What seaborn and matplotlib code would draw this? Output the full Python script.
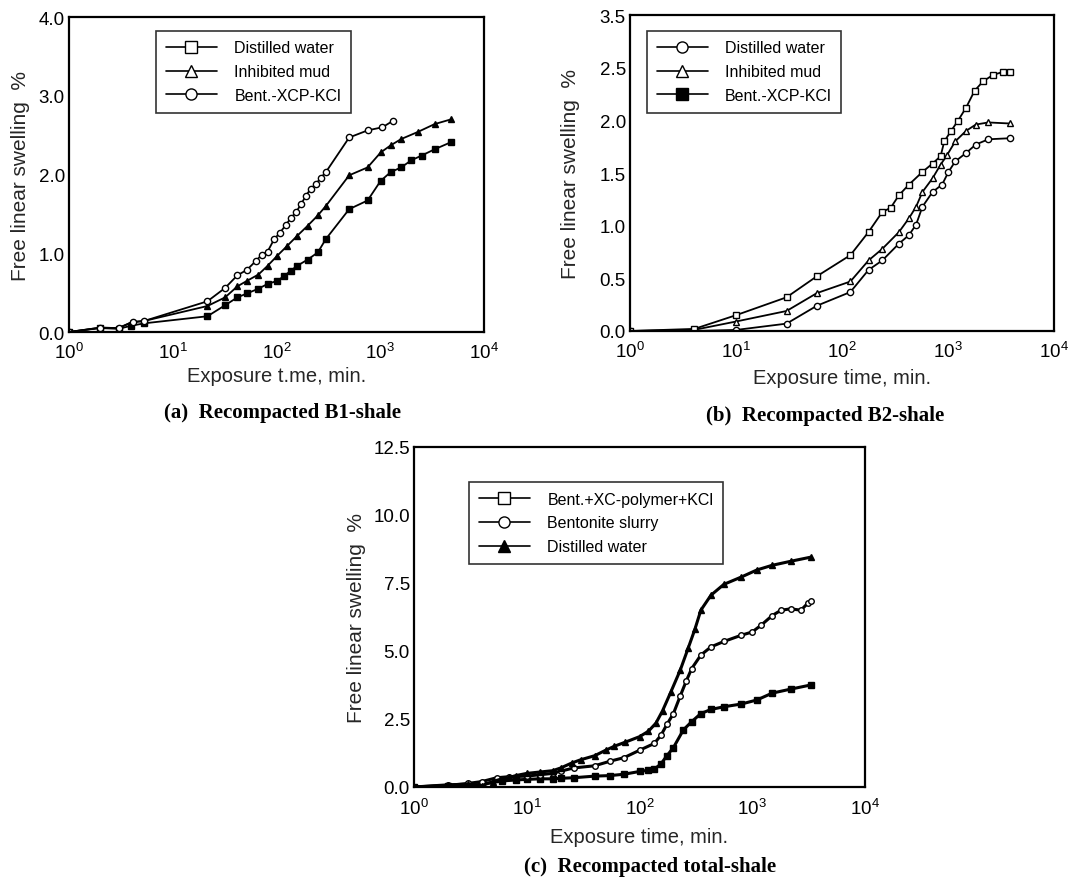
import numpy as np
import pandas as pd
import matplotlib
matplotlib.use("Agg")
import matplotlib.pyplot as plt
from matplotlib.lines import Line2D
from matplotlib.ticker import LogLocator, MultipleLocator, FixedLocator, FixedFormatter, NullFormatter
import seaborn as sns

# ---------------- data ----------------
# Panel (a) Recompacted B1-shale
a_circ_x = [1, 2, 3, 4.1, 5.3, 21.6, 32, 42, 52, 63, 72, 82, 95, 108, 123, 138, 154, 172, 192, 214, 240, 268, 299, 502, 755, 1050, 1320]
a_circ_y = [0, 0.055, 0.05, 0.13, 0.14, 0.39, 0.56, 0.72, 0.79, 0.90, 0.98, 1.02, 1.18, 1.26, 1.36, 1.45, 1.52, 1.62, 1.73, 1.82, 1.88, 1.96, 2.03, 2.47, 2.56, 2.60, 2.68]
a_tri_x = [1, 2, 3, 4, 5.3, 21.6, 32, 42, 52, 67, 82, 102, 126, 158, 200, 250, 299, 502, 755, 1010, 1260, 1590, 2300, 3340, 4800]
a_tri_y = [0, 0.055, 0.05, 0.12, 0.14, 0.33, 0.44, 0.58, 0.65, 0.73, 0.84, 0.97, 1.09, 1.22, 1.35, 1.48, 1.60, 1.99, 2.09, 2.28, 2.37, 2.45, 2.54, 2.64, 2.70]
a_sq_x = [1, 2, 3, 4, 5.3, 21.6, 32, 42, 52, 67, 82, 102, 118, 138, 158, 200, 250, 299, 502, 755, 1010, 1260, 1590, 1990, 2500, 3340, 4800]
a_sq_y = [0, 0.05, 0.04, 0.08, 0.11, 0.2, 0.34, 0.44, 0.49, 0.55, 0.61, 0.65, 0.71, 0.78, 0.84, 0.92, 1.01, 1.18, 1.56, 1.67, 1.92, 2.03, 2.09, 2.18, 2.24, 2.32, 2.41]
a_labels = ["Distilled water", "Inhibited mud", "Bent.-XCP-KCl"]

# Panel (b) Recompacted B2-shale
b_sq_x = [1, 4.05, 10, 30, 58, 120, 178, 240, 288, 345, 428, 574, 715, 852, 922, 1070, 1230, 1480, 1780, 2140, 2650, 3300, 3820]
b_sq_y = [0, 0.02, 0.15, 0.32, 0.52, 0.72, 0.94, 1.13, 1.17, 1.29, 1.39, 1.51, 1.59, 1.66, 1.80, 1.90, 1.99, 2.12, 2.28, 2.37, 2.43, 2.46, 2.46]
b_tri_x = [1, 4, 10, 30, 58, 120, 178, 240, 345, 428, 500, 574, 715, 852, 980, 1170, 1480, 1830, 2400, 3820]
b_tri_y = [0, 0.01, 0.09, 0.19, 0.36, 0.47, 0.67, 0.78, 0.94, 1.07, 1.18, 1.32, 1.45, 1.58, 1.67, 1.80, 1.90, 1.96, 1.98, 1.97]
b_circ_x = [1, 4, 10, 30, 58, 120, 178, 240, 345, 428, 500, 574, 715, 880, 1010, 1170, 1480, 1830, 2400, 3820]
b_circ_y = [0, 0.0, 0.01, 0.07, 0.24, 0.37, 0.58, 0.67, 0.83, 0.91, 1.01, 1.18, 1.32, 1.39, 1.51, 1.61, 1.69, 1.77, 1.82, 1.83]
b_labels = ["Distilled water", "Inhibited mud", "Bent.-XCP-KCl"]
b_yticks = [0.0, 0.5, 1.0, 1.5, 2.0, 2.5, 3.0]
b_yticklabels = ["0.0", "0.5", "1.0", "1.5", "2.0", "2.5", "3.5"]

# Panel (c) Recompacted total-shale
c_tri_x = [1, 2, 3, 4, 5, 6, 7, 8, 10, 13, 17, 20, 25, 30, 40, 50, 60, 75, 100, 120, 140, 160, 190, 230, 270, 310, 350, 430, 560, 800, 1100, 1500, 2200, 3300]
c_tri_y = [0, 0.08, 0.1, 0.05, 0.2, 0.3, 0.35, 0.42, 0.5, 0.55, 0.6, 0.7, 0.88, 1.0, 1.15, 1.35, 1.5, 1.65, 1.85, 2.05, 2.35, 2.8, 3.5, 4.3, 5.1, 5.8, 6.5, 7.05, 7.45, 7.72, 7.98, 8.15, 8.3, 8.45]
c_circ_x = [1, 2, 3, 4, 5.4, 7, 10, 13, 17, 20, 26, 40, 55, 73, 100, 135, 155, 175, 200, 230, 260, 290, 350, 430, 560, 800, 1000, 1200, 1500, 1800, 2200, 2700, 3100, 3300]
c_circ_y = [0, 0.06, 0.13, 0.2, 0.34, 0.38, 0.4, 0.45, 0.5, 0.58, 0.7, 0.78, 0.95, 1.08, 1.35, 1.6, 1.9, 2.3, 2.7, 3.35, 3.9, 4.35, 4.85, 5.15, 5.35, 5.58, 5.7, 5.95, 6.3, 6.5, 6.55, 6.5, 6.75, 6.85]
c_sq_x = [1, 2, 3, 4, 6, 8, 10, 13, 17, 20, 26, 40, 55, 73, 100, 120, 135, 155, 175, 200, 245, 290, 350, 430, 560, 800, 1100, 1500, 2200, 3300]
c_sq_y = [0, 0.04, 0.06, 0.1, 0.22, 0.26, 0.28, 0.3, 0.3, 0.32, 0.34, 0.4, 0.42, 0.47, 0.57, 0.62, 0.65, 0.85, 1.15, 1.45, 2.1, 2.4, 2.7, 2.85, 2.95, 3.05, 3.2, 3.45, 3.6, 3.75]
c_labels = ["Bent.+XC-polymer+KCl", "Bentonite slurry", "Distilled water"]

# ---------------- style ----------------
sns.set_theme(style="white")
plt.rcParams["font.family"] = ["Liberation Sans", "DejaVu Sans"]
plt.rcParams["mathtext.fontset"] = "custom"
plt.rcParams["mathtext.rm"] = "Liberation Sans"
plt.rcParams["mathtext.it"] = "Liberation Sans"
plt.rcParams["axes.edgecolor"] = "black"
plt.rcParams["axes.linewidth"] = 1.6
plt.rcParams["text.color"] = "black"
plt.rcParams["xtick.color"] = "black"
plt.rcParams["ytick.color"] = "black"

fig = plt.figure(figsize=(10.73, 8.78), dpi=100)
W, H = 1073, 878

def add_ax(l, r, t, b):
    return fig.add_axes([l / W, 1 - b / H, (r - l) / W, (b - t) / H])

ax_a = add_ax(69, 484, 18, 333)
ax_b = add_ax(630, 1054, 16, 332)
ax_c = add_ax(414, 865, 448, 788)

def series(ax, xs, ys, marker, filled, ms, lw=1.3):
    df = pd.DataFrame({"t": xs, "s": ys})
    sns.lineplot(data=df, x="t", y="s", ax=ax, color="black", lw=lw,
                 marker=marker, markersize=ms,
                 markerfacecolor="black" if filled else "white",
                 markeredgecolor="black", markeredgewidth=1.0,
                 estimator=None, sort=False)

def style_ax(ax, ymax, ymajor, yminor, xpad=7, ylabelpad=5, xlabelpad=3):
    ax.set_xscale("log")
    ax.set_xlim(1, 1e4)
    ax.set_ylim(0, ymax)
    ax.xaxis.set_major_locator(LogLocator(base=10, numticks=10))
    ax.xaxis.set_minor_locator(LogLocator(base=10, subs=np.arange(2, 10), numticks=10))
    ax.xaxis.set_minor_formatter(NullFormatter())
    ax.yaxis.set_major_locator(MultipleLocator(ymajor))
    ax.yaxis.set_minor_locator(MultipleLocator(yminor))
    ax.tick_params(which="both", direction="in", top=False, right=False,
                   labelsize=13.5)
    ax.tick_params(axis="x", pad=xpad)
    ax.tick_params(axis="y", pad=3)
    ax.tick_params(which="major", length=5, width=1.2)
    ax.tick_params(which="minor", length=3, width=1.0)
    for s in ax.spines.values():
        s.set_visible(True)
        s.set_color("black")
    ax.set_xlabel("Exposure time, min.", fontsize=14.5, labelpad=xlabelpad)
    ax.set_ylabel("Free linear swelling  %", fontsize=15, labelpad=ylabelpad)

def legend(ax, labels, markers, fills, anchor):
    handles = [Line2D([0], [0], color="black", lw=1.2, marker=m, markersize=8,
                      markerfacecolor="black" if f else "white",
                      markeredgecolor="black") for m, f in zip(markers, fills)]
    leg = ax.legend(handles, labels, loc="upper left", bbox_to_anchor=anchor,
                    frameon=True, fancybox=False, fontsize=11.5, handlelength=3.2,
                    handletextpad=1.1, borderpad=0.6, labelspacing=0.55,
                    borderaxespad=0)
    leg.get_frame().set_edgecolor("black")
    leg.get_frame().set_linewidth(1.2)

# (a)
series(ax_a, a_sq_x, a_sq_y, "s", True, 4.5)
series(ax_a, a_tri_x, a_tri_y, "^", True, 4)
series(ax_a, a_circ_x, a_circ_y, "o", False, 4.5)
style_ax(ax_a, 4.0, 1.0, 0.5, ylabelpad=6)
ax_a.yaxis.set_major_formatter(plt.FormatStrFormatter("%.1f"))
ax_a.set_xlabel("Exposure t.me, min.", fontsize=14.5, labelpad=3)
legend(ax_a, a_labels, ["s", "^", "o"], [False, False, False], (0.21, 0.956))

# (b)
series(ax_b, b_circ_x, b_circ_y, "o", False, 4.5)
series(ax_b, b_tri_x, b_tri_y, "^", False, 4)
series(ax_b, b_sq_x, b_sq_y, "s", False, 4.5)
style_ax(ax_b, 3.0, 0.5, 0.25, ylabelpad=14, xlabelpad=5)
ax_b.yaxis.set_major_locator(FixedLocator(b_yticks))
ax_b.yaxis.set_major_formatter(FixedFormatter(b_yticklabels))
legend(ax_b, b_labels, ["o", "^", "s"], [False, False, True], (0.04, 0.95))

# (c)
series(ax_c, c_sq_x, c_sq_y, "s", True, 4, lw=2.2)
series(ax_c, c_circ_x, c_circ_y, "o", False, 4, lw=2.2)
series(ax_c, c_tri_x, c_tri_y, "^", True, 4.5, lw=2.2)
style_ax(ax_c, 12.5, 2.5, 1.25, xpad=8, ylabelpad=5, xlabelpad=6)
ax_c.yaxis.set_major_formatter(plt.FormatStrFormatter("%.1f"))
legend(ax_c, c_labels, ["s", "o", "^"], [False, False, True], (0.122, 0.897))

# sub-captions
cap = dict(ha="center", va="center", fontsize=15, fontweight="bold",
           family=["Liberation Serif", "DejaVu Serif"])
fig.text(282 / W, 1 - 413 / H, "(a)  Recompacted B1-shale", **cap)
fig.text(825 / W, 1 - 416 / H, "(b)  Recompacted B2-shale", **cap)
fig.text(650 / W, 1 - 867 / H, "(c)  Recompacted total-shale", **cap)

fig.savefig("out.png", dpi=100, facecolor="white")
